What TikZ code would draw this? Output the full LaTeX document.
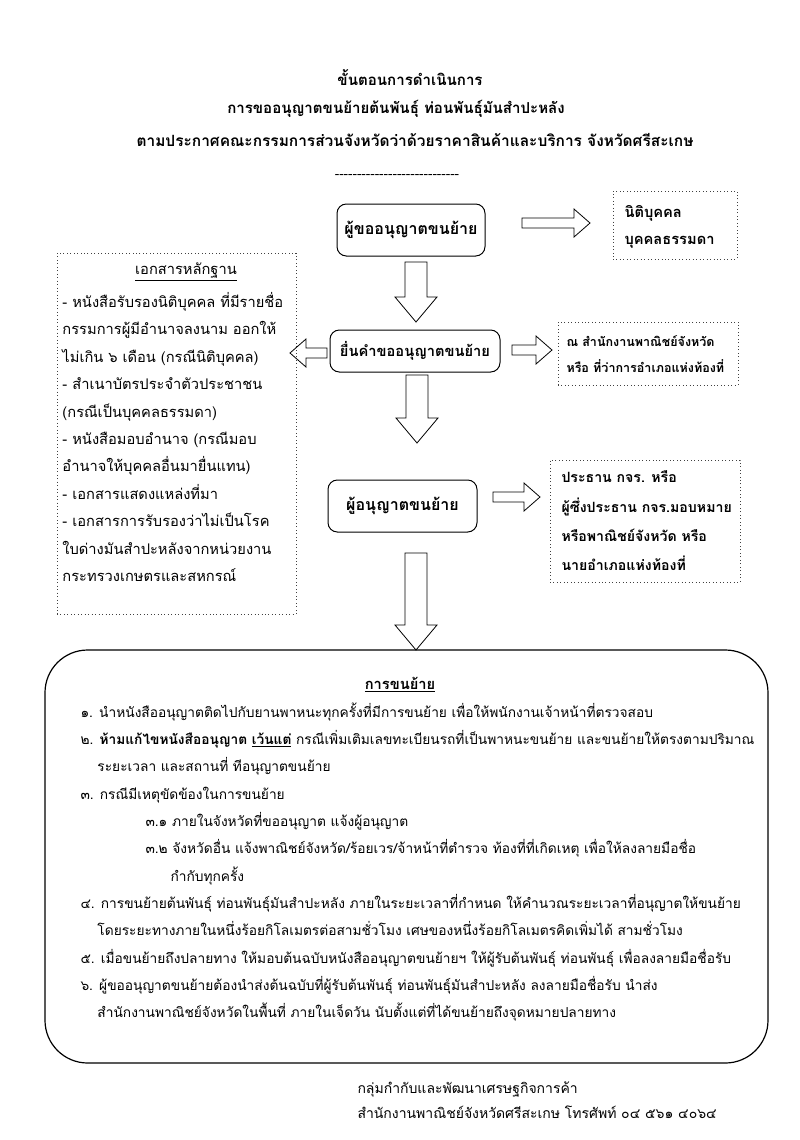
\documentclass[tikz,border=0pt]{standalone}
\usepackage{fontspec}
\setmainfont{Loma}[Script=Thai]
\usetikzlibrary{positioning}
\tikzset{every picture/.style={line width=0.75pt}}
\tikzset{
  stepbox/.style={draw, rounded corners=7pt, align=center, font=\fontsize{12}{14}\selectfont\bfseries},
  notebox/.style={draw=black!75, dotted, line width=0.6pt},
  notetext/.style={anchor=west, align=left, inner sep=0pt, font=\fontsize{11}{#1}\selectfont\bfseries},
  bodytext/.style={anchor=west, align=left, inner sep=0pt, font=\fontsize{11}{#1}\selectfont},
  headtext/.style={font=\fontsize{11.3}{14}\selectfont\bfseries},
  blk/.style={draw, line width=0.6pt}
}
% hollow block arrows: tail point, length, direction
\newcommand{\harrow}[3]{\draw[blk] (#1) ++(0,-5) -- ++({#3*(#2-16)},0) -- ++(0,-9) -- ++({#3*16},14)
  -- ++({-1*(#3)*16},14) -- ++(0,-9) -- ++({-1*(#3)*(#2-16)},0) -- cycle;}
\newcommand{\varrow}[2]{\draw[blk] (#1) ++(-11,0) -- ++(0,{#2-25}) -- ++(-10,0) -- ++(21,25)
  -- ++(21,-25) -- ++(-10,0) -- ++(0,{-1*(#2-25)}) -- cycle;}

\begin{document}
\begin{tikzpicture}[x=0.75pt,y=0.75pt,yscale=-1,xscale=1]
\useasboundingbox (0,0) rectangle (800,1140);

% Title
\node[headtext] (head1) at (410,78) {ขั้นตอนการดำเนินการ};
\node[headtext] (head2) at (396,109) {การขออนุญาตขนย้ายต้นพันธุ์ ท่อนพันธุ์มันสำปะหลัง};
\node[headtext, font=\fontsize{11.6}{14}\selectfont\bfseries] (head3) at (415,140) {ตามประกาศคณะกรรมการส่วนจังหวัดว่าด้วยราคาสินค้าและบริการ จังหวัดศรีสะเกษ};
\node (rule) at (397,176) {\foreach \i in {1,...,28}{-}};

% Steps
\node[stepbox, minimum width=111pt, minimum height=39pt] (apply) at (411,230) {ผู้ขออนุญาตขนย้าย};
\node[stepbox, minimum width=127.5pt, minimum height=31.5pt, font=\fontsize{11}{13}\selectfont\bfseries] (submit) at (415,351) {ยื่นคำขออนุญาตขนย้าย};
\node[stepbox, minimum width=111.75pt, minimum height=39pt] (permit) at (402.5,506) {ผู้อนุญาตขนย้าย};

% Notes
\node[notebox, minimum width=93pt, minimum height=51pt] (who) at (675,225) {};
\node[notetext=20.25pt] (whotext) at (624,226.5) {นิติบุคคล\\บุคคลธรรมดา};
\node[notebox, minimum width=135pt, minimum height=47.25pt] (where) at (648,353.5) {};
\node[notetext=19.5pt, font=\fontsize{9.4}{19.5}\selectfont\bfseries] (wheretext) at (566,354) {ณ สำนักงานพาณิชย์จังหวัด\\หรือ ที่ว่าการอำเภอแห่งท้องที่};
\node[notebox, minimum width=142.5pt, minimum height=91.5pt] (officer) at (645,521) {};
\node[notetext=22pt, font=\fontsize{10.6}{22}\selectfont\bfseries] (officertext) at (561,521) {ประธาน กจร. หรือ\\ผู้ซึ่งประธาน กจร.มอบหมาย\\หรือพาณิชย์จังหวัด หรือ\\นายอำเภอแห่งท้องที่};

% Documents
\node[notebox, minimum width=179.25pt, minimum height=270.75pt] (docs) at (176.5,433.5) {};
\node[font=\fontsize{11}{13}\selectfont] (docstitle) at (186,272) {\underline{เอกสารหลักฐาน}};
\node[bodytext=20.6pt] (docstext) at (62,437) {- หนังสือรับรองนิติบุคคล ที่มีรายชื่อ\\
กรรมการผู้มีอำนาจลงนาม ออกให้\\
ไม่เกิน ๖ เดือน (กรณีนิติบุคคล)\\
- สำเนาบัตรประจำตัวประชาชน\\
(กรณีเป็นบุคคลธรรมดา)\\
- หนังสือมอบอำนาจ (กรณีมอบ\\
อำนาจให้บุคคลอื่นมายื่นแทน)\\
- เอกสารแสดงแหล่งที่มา\\
- เอกสารการรับรองว่าไม่เป็นโรค\\
ใบด่างมันสำปะหลังจากหน่วยงาน\\
กระทรวงเกษตรและสหกรณ์};

% Arrows
\coordinate (a1) at (522,223);
\coordinate (a2) at (327,353);
\coordinate (a3) at (512,350);
\coordinate (a4) at (493,497);
\coordinate (d1) at (416,262);
\coordinate (d2) at (417,375);
\coordinate (d3) at (416,553);
\harrow{a1}{68}{1}
\harrow{a2}{37}{-1}
\harrow{a3}{40}{1}
\harrow{a4}{47}{1}
\varrow{d1}{60}
\varrow{d2}{68}
\varrow{d3}{97}

% Transport rules
\node[draw, rounded corners=32pt, minimum width=542.25pt, minimum height=309.75pt, line width=0.9pt] (transport) at (406.5,856.5) {};
\node[font=\fontsize{11}{13}\selectfont\bfseries] (transtitle) at (400,685) {\underline{การขนย้าย}};
\node[bodytext=20.5pt, font=\fontsize{10.3}{20.5}\selectfont] (transtext) at (80,862) {๑. นำหนังสืออนุญาตติดไปกับยานพาหนะทุกครั้งที่มีการขนย้าย เพื่อให้พนักงานเจ้าหน้าที่ตรวจสอบ\\
๒. \textbf{ห้ามแก้ไขหนังสืออนุญาต \underline{เว้นแต่}} กรณีเพิ่มเติมเลขทะเบียนรถที่เป็นพาหนะขนย้าย และขนย้ายให้ตรงตามปริมาณ\\
\hspace*{12.75pt}ระยะเวลา และสถานที่ ทีอนุญาตขนย้าย\\
๓. กรณีมีเหตุขัดข้องในการขนย้าย\\
\hspace*{48.75pt}๓.๑ ภายในจังหวัดที่ขออนุญาต แจ้งผู้อนุญาต\\
\hspace*{48.75pt}๓.๒ จังหวัดอื่น แจ้งพาณิชย์จังหวัด/ร้อยเวร/จ้าหน้าที่ตำรวจ ท้องที่ที่เกิดเหตุ เพื่อให้ลงลายมือชื่อ\\
\hspace*{67.5pt}กำกับทุกครั้ง\\
๔. การขนย้ายต้นพันธุ์ ท่อนพันธุ์มันสำปะหลัง ภายในระยะเวลาที่กำหนด ให้คำนวณระยะเวลาที่อนุญาตให้ขนย้าย\\
\hspace*{12.75pt}โดยระยะทางภายในหนึ่งร้อยกิโลเมตรต่อสามชั่วโมง เศษของหนึ่งร้อยกิโลเมตรคิดเพิ่มได้ สามชั่วโมง\\
๕. เมื่อขนย้ายถึงปลายทาง ให้มอบต้นฉบับหนังสืออนุญาตขนย้ายฯ ให้ผู้รับต้นพันธุ์ ท่อนพันธุ์ เพื่อลงลายมือชื่อรับ\\
๖. ผู้ขออนุญาตขนย้ายต้องนำส่งต้นฉบับที่ผู้รับต้นพันธุ์ ท่อนพันธุ์มันสำปะหลัง ลงลายมือชื่อรับ นำส่ง\\
\hspace*{12.75pt}สำนักงานพาณิชย์จังหวัดในพื้นที่ ภายในเจ็ดวัน นับตั้งแต่ที่ได้ขนย้ายถึงจุดหมายปลายทาง};

% Footer
\node[bodytext=18.75pt, font=\fontsize{10.5}{18.75}\selectfont] (office) at (357,1100.5) {กลุ่มกำกับและพัฒนาเศรษฐกิจการค้า\\สำนักงานพาณิชย์จังหวัดศรีสะเกษ โทรศัพท์ ๐๔ ๕๖๑ ๔๐๖๔};

\end{tikzpicture}
\end{document}
